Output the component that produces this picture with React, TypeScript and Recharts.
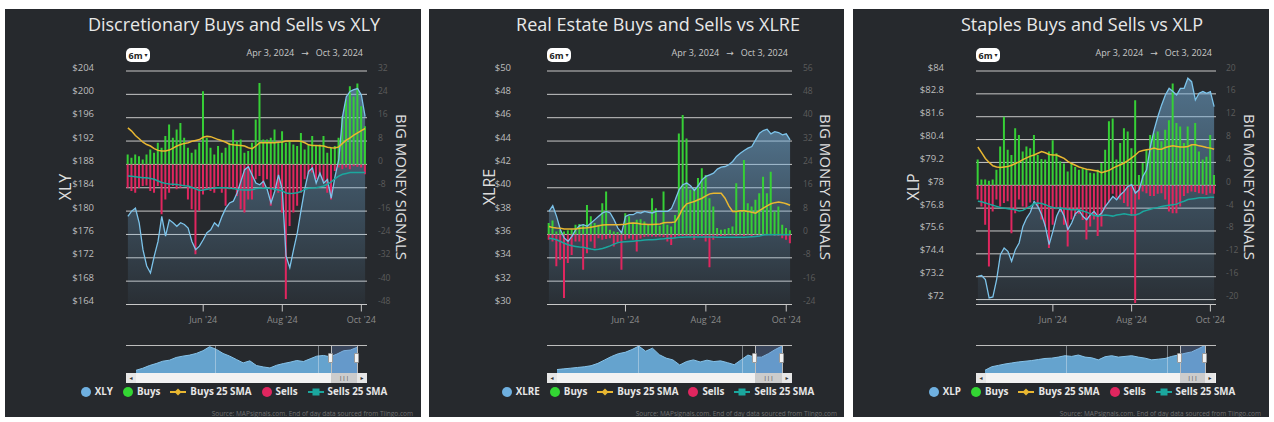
import React from 'react';
import { ComposedChart, AreaChart, Area, Bar, Line, XAxis, YAxis, CartesianGrid } from 'recharts';

const FONT = '"Open Sans", "DejaVu Sans", sans-serif';
const BG = '#26292d';
const C_PRICE = '#7cc3ea';
const C_BUY = '#36cf36';
const C_SELL = '#e0265f';
const C_BSMA = '#e8b731';
const C_SSMA = '#1ba79e';

// ~2 trading days per point, Apr 3 2024 -> Oct 3 2024
const X_TICKS = [20, 41, 62];
const X_TICK_LABELS = ["Jun '24", "Aug '24", "Oct '24"];
const LEGEND_NAMES = ['Buys', 'Buys 25 SMA', 'Sells', 'Sells 25 SMA'];

// ---- XLY ----
const PRICE_XLY = [179.1, 180.0, 180.5, 178.0, 173.4, 170.6, 169.4, 172.3, 174.8, 179.1, 175.7, 178.5, 178.0, 177.4, 178.0, 177.7, 177.1, 174.8, 173.4, 174.0, 175.1, 176.3, 176.8, 178.0, 177.4, 179.1, 180.5, 181.4, 181.7, 183.1, 185.1, 187.1, 187.6, 186.2, 184.8, 184.5, 185.1, 183.7, 181.4, 183.4, 186.2, 183.7, 172.3, 170.3, 173.4, 176.3, 180.2, 183.9, 186.8, 187.4, 184.8, 186.5, 184.8, 185.4, 182.2, 185.9, 188.8, 196.2, 199.6, 200.5, 200.8, 201.0, 199.9, 196.2];
const BUYS_XLY = [3.4, 2.3, 3.4, 2.8, 1.7, 3.4, 5.1, 4.0, 7.4, 5.7, 9.7, 13.7, 9.1, 12.0, 14.2, 9.1, 5.7, 4.0, 5.1, 7.4, 25.1, 9.1, 5.7, 3.4, 6.3, 4.0, 5.7, 7.4, 12.0, 8.0, 8.5, 4.0, 4.6, 7.4, 15.4, 27.9, 8.5, 8.5, 9.1, 12.0, 7.4, 11.4, 7.4, 8.0, 6.8, 6.3, 10.8, 5.1, 6.8, 9.7, 6.3, 6.8, 9.7, 4.0, 5.7, 6.3, 9.1, 16.5, 22.2, 26.8, 23.3, 27.7, 19.9, 13.1];
const SELLS_XLY = [-8.0, -9.1, -9.7, -8.0, -7.4, -7.2, -9.1, -9.7, -7.4, -17.1, -12.0, -9.7, -7.4, -8.5, -8.0, -7.4, -12.0, -15.4, -30.8, -15.9, -10.3, -8.5, -9.1, -9.7, -7.4, -9.7, -14.2, -8.5, -8.5, -10.8, -15.4, -16.5, -12.0, -12.0, -5.1, -4.0, -8.0, -5.1, -14.2, -8.5, -9.7, -16.5, -46.1, -21.1, -16.5, -14.2, -9.7, -5.1, -3.4, -2.8, -5.1, -4.0, -5.7, -9.7, -12.0, -2.3, -1.1, -1.7, -1.1, -1.7, -0.6, -0.8, -1.1, -3.4];
const BSMA_XLY = [12.5, 11.4, 9.9, 8.8, 7.6, 6.8, 6.3, 5.4, 4.8, 4.6, 4.6, 4.9, 5.6, 6.3, 6.8, 7.2, 7.4, 7.9, 8.2, 8.5, 9.3, 9.6, 9.5, 9.0, 8.5, 8.1, 7.6, 6.9, 6.7, 6.6, 6.5, 6.3, 5.7, 5.4, 6.3, 7.4, 7.4, 7.4, 7.4, 7.4, 7.6, 7.7, 8.0, 8.0, 8.0, 8.0, 7.9, 7.4, 6.7, 6.5, 6.5, 6.4, 6.3, 5.9, 5.7, 5.6, 6.0, 7.2, 8.3, 9.1, 10.0, 10.8, 11.6, 12.3];
const SSMA_XLY = [-4.0, -4.1, -4.2, -4.4, -4.6, -4.6, -4.8, -5.1, -5.7, -6.2, -6.5, -6.7, -6.8, -6.9, -7.1, -7.3, -7.4, -7.9, -8.4, -8.9, -8.8, -8.5, -8.3, -8.1, -8.0, -8.0, -8.0, -8.2, -8.3, -8.5, -8.7, -8.8, -8.8, -8.7, -8.3, -8.2, -8.2, -8.2, -8.3, -8.5, -8.8, -9.1, -9.8, -10.0, -9.9, -9.7, -9.3, -8.5, -8.2, -8.1, -8.0, -7.7, -7.4, -6.8, -6.0, -4.9, -4.0, -3.4, -3.1, -2.8, -2.8, -2.8, -2.8, -2.8];
const NAV_XLY = [130, 136, 144, 150, 157, 160, 168, 172, 175, 180, 188, 200, 192, 180, 172, 162, 152, 158, 144, 140, 137, 145, 150, 154, 159, 156, 164, 172, 174, 170, 178, 188, 190, 198];
const PRICE_TICKS_XLY = [164, 168, 172, 176, 180, 184, 188, 192, 196, 200, 204];
const SIG_TICKS_XLY = [-48, -40, -32, -24, -16, -8, 0, 8, 16, 24, 32];

// ---- XLRE ----
const PRICE_XLRE = [37.98, 38.46, 37.55, 36.41, 35.7, 35.41, 35.84, 36.41, 36.75, 36.84, 36.7, 36.98, 37.27, 37.55, 37.84, 37.98, 37.84, 37.27, 36.55, 36.13, 37.55, 37.69, 37.69, 37.89, 37.84, 37.98, 37.89, 37.84, 37.98, 37.98, 37.98, 37.98, 38.21, 38.97, 39.83, 40.26, 40.4, 40.17, 39.77, 40.17, 40.68, 40.97, 41.11, 41.25, 41.6, 41.77, 41.82, 41.97, 42.25, 42.68, 42.96, 43.19, 43.39, 43.53, 44.1, 44.67, 44.9, 45.01, 44.62, 44.81, 44.73, 44.53, 44.62, 44.1];
const BUYS_XLRE = [3.9, 4.8, 1.0, 1.6, 1.0, 1.4, 1.8, 3.3, 3.6, 3.3, 10.1, 6.2, 3.9, 3.3, 10.7, 14.7, 1.6, 1.0, 0.8, 1.0, 7.3, 6.2, 4.1, 5.0, 5.2, 4.4, 3.6, 12.4, 9.0, 3.0, 14.7, 3.3, 2.7, 6.7, 34.6, 40.9, 32.9, 15.3, 15.8, 19.3, 22.7, 20.4, 12.4, 9.6, 2.2, 1.6, 1.8, 2.2, 2.7, 17.5, 7.9, 25.5, 10.7, 9.6, 11.9, 14.1, 19.8, 14.1, 21.5, 7.9, 9.6, 3.3, 2.2, 1.4];
const SELLS_XLRE = [-1.8, -2.4, -10.9, -8.7, -21.8, -9.8, -7.0, -2.4, -2.4, -12.1, -6.4, -2.4, -4.7, -1.3, -1.8, -1.6, -1.3, -4.1, -2.7, -12.1, -1.8, -1.4, -1.8, -5.8, -1.4, -0.9, -0.7, -0.7, -0.8, -0.7, -0.9, -2.4, -3.6, -1.3, -0.5, -0.5, -0.5, -0.7, -1.8, -0.7, -0.5, -2.4, -11.2, -1.8, -0.7, -0.5, -0.5, -0.3, -0.3, -0.5, -0.3, -0.5, -0.3, -0.5, -0.3, -0.3, -0.3, -0.3, -0.3, -0.5, -0.5, -1.3, -1.8, -3.0];
const BSMA_XLRE = [2.7, 2.4, 2.2, 2.1, 1.9, 1.9, 1.9, 1.9, 2.1, 2.2, 2.3, 2.5, 2.7, 3.0, 3.2, 3.3, 3.3, 3.3, 3.3, 3.4, 3.5, 3.8, 3.9, 3.8, 3.6, 3.5, 3.4, 3.4, 3.5, 3.6, 4.0, 4.1, 4.1, 4.3, 6.4, 9.0, 10.5, 10.9, 11.3, 11.9, 12.4, 13.2, 13.9, 14.1, 14.1, 14.1, 12.4, 9.8, 7.9, 7.9, 8.1, 8.1, 7.9, 7.6, 7.3, 8.2, 9.0, 9.8, 10.5, 10.9, 11.1, 10.9, 10.5, 10.0];
const SSMA_XLRE = [-1.3, -1.5, -1.8, -2.4, -3.0, -3.5, -3.9, -4.1, -4.3, -4.4, -4.7, -5.0, -5.2, -5.1, -4.8, -4.4, -3.9, -3.3, -2.8, -2.6, -2.5, -2.4, -2.3, -2.2, -2.1, -1.9, -1.8, -1.8, -1.7, -1.6, -1.5, -1.3, -1.3, -1.1, -1.0, -1.0, -0.9, -0.9, -0.9, -0.9, -0.9, -0.9, -0.9, -0.9, -1.0, -1.0, -1.0, -1.0, -1.0, -1.0, -1.0, -1.0, -0.9, -0.8, -0.7, -0.5, -0.2, -0.1, -0.1, -0.1, -0.1, -0.1, -0.1, -0.1];
const NAV_XLRE = [30.5, 31.0, 31.5, 32.0, 32.5, 33.3, 35.0, 37.5, 40.0, 42.0, 43.0, 45.0, 47.5, 43.8, 46.0, 41.3, 38.8, 37.5, 33.8, 36.3, 37.5, 36.0, 37.3, 36.3, 36.8, 35.5, 34.0, 37.5, 41.0, 39.5, 39.5, 42.0, 45.0, 47.5];
const PRICE_TICKS_XLRE = [30, 32, 34, 36, 38, 40, 42, 44, 46, 48, 50];
const SIG_TICKS_XLRE = [-24, -16, -8, 0, 8, 16, 24, 32, 40, 48, 56];

// ---- XLP ----
const PRICE_XLP = [73.22, 73.26, 73.05, 72.09, 72.14, 73.05, 74.36, 74.71, 74.53, 74.01, 74.62, 74.97, 75.84, 76.28, 76.58, 77.15, 76.89, 76.45, 75.84, 74.88, 75.58, 76.37, 76.8, 76.37, 75.67, 76.02, 76.51, 76.68, 76.37, 76.19, 76.45, 76.63, 76.37, 76.54, 76.89, 77.15, 77.41, 77.24, 77.5, 77.68, 77.94, 78.03, 77.59, 77.76, 78.46, 78.81, 80.03, 80.91, 81.61, 82.22, 82.74, 83.09, 82.92, 82.74, 83.09, 83.09, 83.62, 83.44, 82.48, 82.83, 82.92, 82.83, 82.92, 82.13];
const BUYS_XLP = [4.5, 1.0, 1.0, 0.8, 1.0, 2.7, 6.8, 12.0, 6.2, 5.3, 10.0, 8.8, 5.9, 6.8, 6.5, 8.8, 5.3, 4.6, 4.5, 5.9, 7.9, 5.6, 4.2, 3.8, 2.4, 3.9, 3.2, 2.7, 3.0, 2.7, 2.2, 2.1, 2.7, 3.9, 6.2, 11.2, 11.7, 4.5, 7.4, 10.0, 9.4, 6.5, 14.9, 1.8, 3.9, 6.2, 8.8, 9.1, 9.4, 7.7, 9.7, 11.4, 17.8, 10.9, 10.3, 7.4, 10.3, 7.1, 10.9, 5.9, 4.5, 5.0, 8.8, 1.8];
const SELLS_XLP = [-2.5, -3.7, -6.9, -14.2, -4.6, -2.5, -3.7, -3.1, -2.8, -8.4, -4.9, -2.5, -3.7, -4.0, -3.0, -2.6, -3.7, -6.0, -7.2, -11.0, -6.9, -4.2, -4.7, -6.9, -10.7, -6.0, -5.4, -5.0, -6.1, -9.5, -7.2, -6.0, -8.9, -7.2, -4.2, -3.0, -1.5, -2.2, -2.5, -3.1, -3.7, -5.4, -20.6, -2.5, -1.1, -1.4, -1.9, -1.9, -1.5, -1.4, -2.5, -4.6, -4.9, -4.9, -3.7, -1.9, -1.4, -1.1, -1.2, -1.4, -1.5, -1.7, -1.4, -1.5];
const BSMA_XLP = [6.7, 5.7, 4.7, 4.0, 3.4, 3.2, 3.1, 3.2, 3.3, 3.5, 3.8, 4.1, 4.5, 4.8, 5.1, 5.3, 5.6, 5.9, 5.7, 5.4, 5.3, 5.3, 5.0, 4.7, 4.2, 3.8, 3.5, 3.2, 3.0, 2.8, 2.7, 2.6, 2.5, 2.2, 2.4, 2.6, 3.0, 3.3, 3.6, 3.9, 4.3, 4.8, 5.3, 5.9, 6.1, 6.2, 6.3, 6.5, 6.3, 6.3, 6.6, 6.8, 6.9, 6.8, 6.7, 6.7, 6.8, 7.1, 7.1, 6.9, 6.8, 6.6, 6.5, 6.3];
const SSMA_XLP = [-2.8, -2.9, -3.1, -3.3, -3.5, -3.7, -3.9, -4.0, -4.1, -4.2, -4.3, -4.5, -4.4, -4.0, -3.7, -3.2, -3.1, -3.2, -3.4, -3.7, -3.9, -4.0, -4.0, -4.1, -4.2, -4.3, -4.3, -4.3, -4.5, -4.7, -5.0, -5.3, -5.4, -5.3, -5.2, -5.3, -5.4, -5.2, -5.1, -5.0, -5.1, -5.2, -5.2, -5.0, -4.6, -4.4, -4.2, -4.0, -3.9, -3.7, -3.6, -3.5, -3.4, -3.3, -3.0, -2.8, -2.5, -2.4, -2.3, -2.2, -2.2, -2.2, -2.1, -2.1];
const NAV_XLP = [55, 59, 60.6, 62.2, 63.4, 64.6, 65.4, 66.2, 67.4, 68.6, 69, 70.2, 71.8, 71, 72.6, 70.2, 69.4, 67, 70.6, 71.8, 70.2, 71, 71.8, 70.2, 69, 67, 67.8, 68.6, 71, 72.6, 74.6, 76.2, 79.8, 83.8];
const PRICE_TICKS_XLP = [72, 73.2, 74.4, 75.6, 76.8, 78, 79.2, 80.4, 81.6, 82.8, 84];
const SIG_TICKS_XLP = [-20, -16, -12, -8, -4, 0, 4, 8, 12, 16, 20];

const PANELS = [
  {
    id: 'xly', title: 'Discretionary Buys and Sells vs XLY', ticker: 'XLY',
    left: 5, width: 416, plotLeft: 121, plotRight: 362, leftGap: 32, rightGap: 11,
    priceDomain: [164, 204], priceTicks: PRICE_TICKS_XLY, sigDomain: [-48, 32], sigTicks: SIG_TICKS_XLY,
    price: PRICE_XLY, buys: BUYS_XLY, sells: SELLS_XLY, bsma: BSMA_XLY, ssma: SSMA_XLY,
    nav: NAV_XLY, navDomain: [122, 205], navStart: 131, navEnd: 352, navGrid: [210, 313], mask: [326, 352],
  },
  {
    id: 'xlre', title: 'Real Estate Buys and Sells vs XLRE', ticker: 'XLRE',
    left: 429, width: 415, plotLeft: 118, plotRight: 363, leftGap: 36, rightGap: 11,
    priceDomain: [30, 50], priceTicks: PRICE_TICKS_XLRE, sigDomain: [-24, 56], sigTicks: SIG_TICKS_XLRE,
    price: PRICE_XLRE, buys: BUYS_XLRE, sells: SELLS_XLRE, bsma: BSMA_XLRE, ssma: SSMA_XLRE,
    nav: NAV_XLRE, navDomain: [28, 48.3], navStart: 128, navEnd: 353, navGrid: [209, 313], mask: [326, 353],
  },
  {
    id: 'xlp', title: 'Staples Buys and Sells vs XLP', ticker: 'XLP',
    left: 853, width: 416, plotLeft: 123, plotRight: 363, leftGap: 32, rightGap: 10,
    priceDomain: [71.74, 84], priceTicks: PRICE_TICKS_XLP, sigDomain: [-20.87, 20], sigTicks: SIG_TICKS_XLP,
    price: PRICE_XLP, buys: BUYS_XLP, sells: SELLS_XLP, bsma: BSMA_XLP, ssma: SSMA_XLP,
    nav: NAV_XLP, navDomain: [51.8, 84.2], navStart: 132, navEnd: 352, navGrid: [213, 314], mask: [327, 352],
  },
];

const PLOT_TOP = 62;
const PLOT_BOTTOM = 295.5;
const CHART_H = 330;
const XAXIS_H = 25;
const NAV_TOP = 336;
const NAV_H = 28;

const LegendIcon = ({ kind, color }: { kind: string; color: string }) => {
  if (kind === 'circle') {
    return <span style={{ width: 10, height: 10, borderRadius: 5, background: color, display: 'inline-block' }} />;
  }
  return (
    <svg width={16} height={10}>
      <line x1={0} y1={5} x2={16} y2={5} stroke={color} strokeWidth={2} />
      {kind === 'diamond'
        ? <path d="M8 1.5 L11.5 5 L8 8.5 L4.5 5 Z" fill={color} />
        : <rect x={4.5} y={1.5} width={7} height={7} fill={color} />}
    </svg>
  );
};

const Panel = ({ cfg }: { cfg: typeof PANELS[number] }) => {
  const rows = cfg.price.map((p, i) => ({
    i, price: p, buys: cfg.buys[i], sells: cfg.sells[i], bsma: cfg.bsma[i], ssma: cfg.ssma[i],
  }));
  const navRows = cfg.nav.map((v, i) => ({ i, v }));
  const plotW = cfg.plotRight - cfg.plotLeft;
  const step = (cfg.navEnd - cfg.navStart) / (cfg.nav.length - 1);
  const navX0 = -(cfg.navStart - cfg.plotLeft) / step;
  const navX1 = cfg.nav.length - 1 + (cfg.plotRight - cfg.navEnd) / step;
  const gradId = `grad-${cfg.id}`;

  const leftTick = (p: any) => (
    <text x={p.x} y={p.y - 4} textAnchor="end" dominantBaseline="central" fill="#bdbdbd" fontSize={9.5} fontFamily={FONT}>
      {'$' + p.payload.value}
    </text>
  );
  const rightTick = (p: any) => (
    <text x={p.x} y={p.y - 4} textAnchor="start" dominantBaseline="central" fill="#5c5c5c" fontSize={8.5} fontFamily={FONT}>
      {p.payload.value}
    </text>
  );
  const xTick = (p: any) => (
    <text x={p.x} y={p.y + 6} textAnchor="middle" dominantBaseline="central" fill="#8a8a8a" fontSize={9} fontFamily={FONT}>
      {X_TICK_LABELS[X_TICKS.indexOf(p.payload.value)]}
    </text>
  );

  const legendItems = [
    { name: cfg.ticker, kind: 'circle', color: '#6fb0e0' },
    { name: LEGEND_NAMES[0], kind: 'circle', color: '#33d633' },
    { name: LEGEND_NAMES[1], kind: 'diamond', color: C_BSMA },
    { name: LEGEND_NAMES[2], kind: 'circle', color: C_SELL },
    { name: LEGEND_NAMES[3], kind: 'square', color: C_SSMA },
  ];

  return (
    <div style={{ position: 'absolute', left: cfg.left, top: 9, width: cfg.width, height: 408, background: BG, overflow: 'hidden', fontFamily: FONT }}>
      <div style={{ position: 'absolute', left: 0, top: 3, width: 458, textAlign: 'center', fontSize: 18, lineHeight: '24px', color: '#e8e8e8', whiteSpace: 'nowrap' }}>
        {cfg.title}
      </div>
      <div style={{ position: 'absolute', left: cfg.plotLeft, top: 39, width: 24, height: 14, borderRadius: 5, background: '#fff', color: '#222', fontSize: 9, fontWeight: 700, display: 'flex', alignItems: 'center', justifyContent: 'center', gap: 2 }}>
        6m<span style={{ fontSize: 6 }}>▾</span>
      </div>
      <div style={{ position: 'absolute', right: cfg.width - cfg.plotRight + 4, top: 38, fontSize: 9, lineHeight: '12px', color: '#c8c8c8', whiteSpace: 'pre' }}>
        {'Apr 3, 2024   →   Oct 3, 2024'}
      </div>

      <div style={{ position: 'absolute', left: 0, top: 0 }}>
        <ComposedChart
          width={cfg.width}
          height={CHART_H}
          data={rows}
          stackOffset="sign"
          barCategoryGap="18%"
          barGap={0}
          margin={{ top: PLOT_TOP, right: 0, left: 0, bottom: CHART_H - PLOT_BOTTOM - XAXIS_H }}
        >
          <defs>
            <linearGradient id={gradId} x1="0" y1="0" x2="0" y2="1">
              <stop offset="0%" stopColor="#78b4e0" stopOpacity={0.88} />
              <stop offset="100%" stopColor="#78b4e0" stopOpacity={0.07} />
            </linearGradient>
          </defs>
          <CartesianGrid yAxisId="left" vertical={false} stroke="#c8c8c8" strokeWidth={1} />
          <XAxis
            dataKey="i"
            type="category"
            ticks={X_TICKS}
            interval={0}
            height={XAXIS_H}
            tick={xTick}
            tickSize={7}
            tickLine={{ stroke: '#c8c8c8' }}
            axisLine={{ stroke: '#c8c8c8' }}
          />
          <YAxis
            yAxisId="left"
            orientation="left"
            type="number"
            width={cfg.plotLeft}
            domain={cfg.priceDomain}
            ticks={cfg.priceTicks}
            interval={0}
            allowDataOverflow
            axisLine={false}
            tickLine={false}
            tickSize={0}
            tickMargin={cfg.leftGap}
            tick={leftTick}
          />
          <YAxis
            yAxisId="right"
            orientation="right"
            type="number"
            width={cfg.width - cfg.plotRight}
            domain={cfg.sigDomain}
            ticks={cfg.sigTicks}
            interval={0}
            allowDataOverflow
            axisLine={false}
            tickLine={false}
            tickSize={0}
            tickMargin={cfg.rightGap}
            tick={rightTick}
          />
          <Area yAxisId="left" dataKey="price" stroke="none" fill={`url(#${gradId})`} isAnimationActive={false} />
          <Bar yAxisId="right" dataKey="buys" stackId="bs" fill={C_BUY} isAnimationActive={false} />
          <Bar yAxisId="right" dataKey="sells" stackId="bs" fill={C_SELL} isAnimationActive={false} />
          <Line yAxisId="left" dataKey="price" stroke={C_PRICE} strokeWidth={1.3} dot={false} activeDot={false} isAnimationActive={false} />
          <Line yAxisId="right" dataKey="bsma" stroke={C_BSMA} strokeWidth={1.5} dot={false} activeDot={false} isAnimationActive={false} />
          <Line yAxisId="right" dataKey="ssma" stroke={C_SSMA} strokeWidth={1.5} dot={false} activeDot={false} isAnimationActive={false} />
        </ComposedChart>
      </div>

      <div style={{ position: 'absolute', left: 60, top: 178, transform: 'translate(-50%, -50%) rotate(-90deg)', fontSize: 16, color: '#dcdcdc', whiteSpace: 'nowrap' }}>
        {cfg.ticker}
      </div>
      <div style={{ position: 'absolute', left: 397, top: 178, transform: 'translate(-50%, -50%) rotate(90deg)', fontSize: 15, color: '#e0e0e0', whiteSpace: 'nowrap' }}>
        BIG MONEY SIGNALS
      </div>

      {/* navigator */}
      <div style={{ position: 'absolute', left: cfg.plotLeft, top: NAV_TOP }}>
        <AreaChart width={plotW} height={NAV_H} data={navRows} margin={{ top: 0, right: 0, left: 0, bottom: 0 }}>
          <XAxis dataKey="i" type="number" domain={[navX0, navX1]} allowDataOverflow hide />
          <YAxis type="number" domain={cfg.navDomain} allowDataOverflow hide />
          <Area dataKey="v" stroke="#86c3ea" strokeWidth={1} fill="#6aaedc" fillOpacity={0.92} isAnimationActive={false} />
        </AreaChart>
      </div>
      {cfg.navGrid.map((x) => (
        <div key={x} style={{ position: 'absolute', left: x, top: NAV_TOP, width: 1, height: NAV_H, background: 'rgba(220,230,240,0.45)' }} />
      ))}
      <div style={{ position: 'absolute', left: cfg.mask[0], top: NAV_TOP, width: cfg.mask[1] - cfg.mask[0], height: NAV_H, background: 'rgba(102,133,194,0.32)' }} />
      <div style={{ position: 'absolute', left: cfg.plotLeft, top: NAV_TOP, width: plotW, height: 1, background: '#bdbdbd' }} />
      {cfg.mask.map((x) => (
        <div key={x} style={{ position: 'absolute', left: x, top: NAV_TOP, width: 1, height: NAV_H, background: '#bdbdbd' }} />
      ))}
      {cfg.mask.map((x) => (
        <div key={'h' + x} style={{ position: 'absolute', left: x - 3, top: 344, width: 5, height: 10, background: '#f2f2f2', border: '1px solid #999', borderRadius: 1, boxSizing: 'border-box' }} />
      ))}

      {/* scrollbar */}
      <div style={{ position: 'absolute', left: cfg.plotLeft, top: NAV_TOP + NAV_H, width: plotW, height: 10, background: '#f2f2f2' }} />
      <div style={{ position: 'absolute', left: cfg.plotLeft, top: NAV_TOP + NAV_H, width: 10, height: 10, background: '#e6e6e6', color: '#333', fontSize: 6, lineHeight: '10px', textAlign: 'center' }}>◂</div>
      <div style={{ position: 'absolute', left: cfg.mask[0], top: NAV_TOP + NAV_H, width: cfg.mask[1] - cfg.mask[0], height: 10, background: '#cccccc', color: '#333', fontSize: 6, lineHeight: '10px', textAlign: 'center' }}>|||</div>
      <div style={{ position: 'absolute', left: cfg.mask[1], top: NAV_TOP + NAV_H, width: 10, height: 10, background: '#e6e6e6', color: '#333', fontSize: 6, lineHeight: '10px', textAlign: 'center' }}>▸</div>

      {/* legend */}
      <div style={{ position: 'absolute', left: 0, top: 376, width: 458, display: 'flex', justifyContent: 'center', gap: 10, fontSize: 9.8, fontWeight: 700, color: '#e6e6e6', whiteSpace: 'nowrap' }}>
        {legendItems.map((it) => (
          <div key={it.name} style={{ display: 'flex', alignItems: 'center', gap: 4 }}>
            <LegendIcon kind={it.kind} color={it.color} />
            <span>{it.name}</span>
          </div>
        ))}
      </div>

      <div style={{ position: 'absolute', right: cfg.width - 408, top: 400, fontSize: 6.5, color: '#707070', whiteSpace: 'nowrap' }}>
        Source: MAPsignals.com. End of day data sourced from Tiingo.com
      </div>
    </div>
  );
};

export default function App() {
  return (
    <div style={{ position: 'absolute', left: 0, top: 0, width: 1274, height: 422, background: '#fff', overflow: 'hidden' }}>
      {PANELS.map((p) => <Panel key={p.id} cfg={p} />)}
    </div>
  );
}
